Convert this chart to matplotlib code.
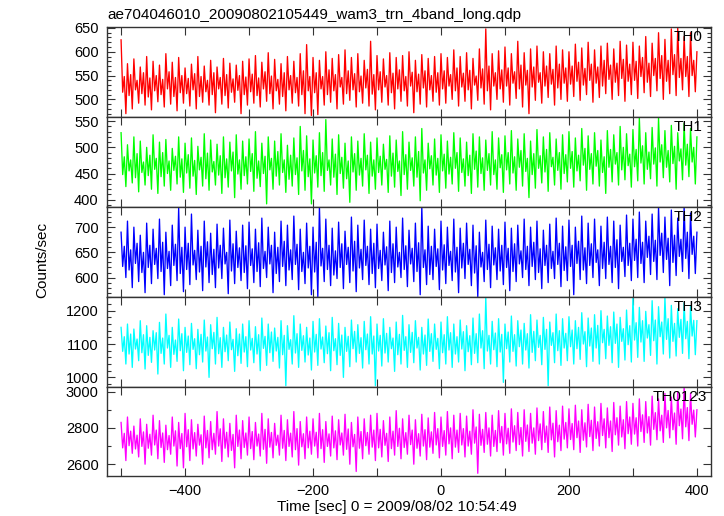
import numpy as np
import matplotlib
matplotlib.use("Agg")
from matplotlib import pyplot as plt
from matplotlib.ticker import MultipleLocator

plt.rcParams['font.family'] = ['Liberation Sans', 'DejaVu Sans']

# light curve time grid (sec); per 10 s bin: peak, core-low, core-high, dip
t = np.arange(-500, 401, 2.5)

th0_hi = [625, 575, 585, 568, 590, 580, 572, 596, 578, 588,
          566, 574, 590, 570, 582, 568, 586, 576, 572, 580,
          585, 592, 578, 598, 584, 575, 590, 580, 596, 615,
          588, 582, 600, 586, 594, 604, 588, 596, 582, 622,
          592, 585, 598, 588, 592, 600, 582, 594, 586, 590,
          596, 588, 604, 590, 598, 586, 606, 648, 596, 602,
          610, 596, 622, 598, 606, 612, 600, 596, 612, 604,
          600, 616, 608, 620, 604, 612, 618, 606, 622, 614,
          620, 612, 632, 618, 640, 626, 648, 650, 632, 640, 600]
th0_chi = [548, 552, 540, 556, 545, 550, 542, 558, 546, 550,
           544, 554, 548, 540, 556, 546, 552, 543, 550, 547,
           553, 545, 558, 549, 542, 556, 550, 546, 560, 548,
           556, 548, 562, 552, 546, 560, 554, 549, 563, 552,
           558, 550, 555, 562, 548, 557, 553, 560, 550, 556,
           560, 552, 566, 555, 561, 549, 564, 570, 556, 562,
           566, 558, 572, 561, 568, 556, 570, 563, 574, 566,
           570, 578, 565, 574, 568, 582, 572, 576, 584, 574,
           580, 588, 576, 586, 592, 582, 594, 586, 590, 582]
th0_clo = [515, 508, 520, 512, 505, 518, 510, 522, 506, 514,
           512, 520, 506, 516, 510, 522, 508, 515, 519, 510,
           516, 508, 522, 512, 518, 506, 520, 514, 510, 518,
           514, 522, 510, 518, 526, 512, 520, 516, 524, 511,
           520, 526, 514, 522, 518, 528, 516, 524, 520, 515,
           522, 528, 518, 526, 520, 530, 524, 518, 528, 522,
           528, 534, 522, 530, 526, 536, 528, 532, 524, 534,
           532, 538, 530, 540, 534, 528, 542, 536, 544, 538,
           540, 548, 536, 550, 544, 538, 552, 546, 548, 550]
th0_lo = [470, 480, 492, 488, 478, 495, 484, 490, 476, 492,
          486, 480, 494, 488, 472, 490, 482, 494, 470, 488,
          492, 484, 496, 480, 490, 476, 492, 486, 470, 466,
          468, 488, 494, 480, 490, 498, 484, 492, 486, 478,
          494, 488, 480, 496, 486, 472, 490, 484, 496, 488,
          492, 500, 486, 496, 480, 498, 490, 478, 500, 494,
          488, 502, 484, 470, 498, 492, 504, 488, 500, 496,
          506, 498, 510, 494, 504, 512, 500, 508, 496, 510,
          502, 514, 506, 518, 500, 512, 508, 520, 506, 516]

th1_hi = [528, 505, 520, 512, 500, 524, 510, 515, 498, 520,
          508, 518, 502, 526, 514, 506, 520, 510, 524, 512,
          516, 530, 508, 520, 512, 526, 504, 518, 540, 522,
          514, 528, 553, 516, 524, 508, 520, 512, 526, 510,
          518, 506, 522, 514, 530, 510, 520, 536, 508, 516,
          524, 512, 528, 518, 510, 526, 520, 514, 530, 518,
          522, 532, 516, 526, 512, 534, 520, 528, 516, 524,
          530, 518, 536, 522, 528, 514, 532, 524, 540, 526,
          534, 556, 528, 538, 556, 532, 542, 528, 546, 536, 520]
th1_chi = [482, 476, 488, 472, 485, 479, 490, 474, 483, 478,
           486, 475, 481, 489, 473, 484, 478, 491, 476, 482,
           488, 474, 483, 479, 492, 476, 485, 480, 494, 478,
           484, 490, 476, 487, 481, 474, 488, 479, 485, 476,
           483, 477, 489, 474, 486, 480, 492, 476, 484, 479,
           487, 481, 490, 478, 485, 493, 480, 488, 476, 486,
           490, 482, 494, 479, 488, 484, 496, 481, 490, 486,
           492, 485, 498, 488, 494, 482, 496, 490, 500, 487,
           496, 503, 491, 499, 505, 494, 502, 497, 506, 500]
th1_clo = [448, 455, 442, 452, 446, 458, 444, 450, 456, 443,
           451, 445, 457, 440, 453, 447, 442, 455, 449, 446,
           454, 441, 450, 457, 445, 452, 439, 448, 455, 444,
           451, 446, 456, 443, 450, 440, 453, 447, 457, 445,
           452, 458, 445, 454, 448, 456, 443, 451, 459, 447,
           455, 449, 460, 452, 446, 458, 450, 456, 448, 461,
           457, 451, 462, 454, 448, 460, 453, 463, 456, 450,
           460, 455, 466, 458, 464, 452, 462, 468, 457, 465,
           463, 470, 458, 468, 472, 462, 469, 474, 466, 472]
th1_lo = [425, 432, 415, 428, 420, 412, 426, 418, 430, 414,
          422, 410, 426, 418, 428, 412, 424, 404, 420, 430,
          416, 425, 392, 420, 428, 414, 426, 410, 418, 392,
          424, 416, 428, 410, 422, 395, 418, 426, 412, 420,
          428, 414, 424, 408, 420, 426, 398, 418, 428, 414,
          422, 430, 416, 426, 412, 424, 418, 428, 420, 414,
          430, 418, 426, 404, 422, 432, 416, 428, 420, 434,
          424, 436, 418, 430, 426, 412, 434, 428, 438, 424,
          436, 430, 440, 426, 442, 434, 420, 438, 444, 430]

th2_hi = [690, 712, 700, 684, 708, 696, 716, 690, 704, 738,
          700, 726, 694, 712, 688, 706, 698, 714, 692, 704,
          710, 696, 718, 700, 690, 712, 704, 722, 696, 708,
          700, 741, 716, 698, 710, 692, 720, 704, 714, 696,
          706, 690, 712, 700, 718, 694, 708, 741, 702, 696,
          712, 700, 716, 698, 708, 704, 690, 714, 702, 696,
          710, 698, 704, 716, 700, 712, 694, 706, 718, 702,
          714, 700, 722, 708, 716, 702, 720, 712, 704, 724,
          716, 730, 712, 726, 740, 720, 734, 718, 741, 728, 690]
th2_chi = [662, 655, 668, 650, 664, 658, 670, 652, 666, 660,
           668, 654, 662, 671, 656, 664, 650, 667, 659, 663,
           657, 669, 652, 664, 660, 672, 655, 666, 650, 662,
           670, 658, 664, 653, 667, 660, 672, 656, 662, 668,
           654, 661, 667, 650, 663, 658, 669, 655, 662, 657,
           665, 652, 660, 668, 656, 663, 650, 666, 659, 664,
           658, 667, 653, 662, 670, 657, 664, 652, 668, 661,
           664, 672, 659, 667, 655, 670, 662, 675, 660, 668,
           676, 670, 682, 674, 688, 678, 684, 676, 690, 682]
th2_clo = [622, 615, 628, 610, 620, 626, 612, 618, 624, 608,
           616, 625, 611, 621, 606, 619, 627, 613, 620, 610,
           624, 612, 618, 627, 608, 622, 615, 626, 612, 619,
           611, 623, 616, 605, 620, 626, 613, 619, 624, 608,
           618, 625, 610, 621, 616, 627, 612, 620, 606, 622,
           615, 624, 611, 619, 626, 609, 621, 616, 625, 613,
           620, 612, 627, 616, 622, 610, 624, 618, 626, 614,
           622, 628, 615, 624, 630, 618, 626, 620, 632, 624,
           634, 628, 640, 632, 644, 636, 630, 642, 638, 646]
th2_lo = [600, 580, 592, 570, 588, 598, 566, 584, 594, 572,
          586, 596, 574, 590, 580, 598, 568, 588, 594, 578,
          590, 582, 600, 570, 592, 584, 596, 576, 588, 566,
          562, 592, 584, 598, 578, 590, 572, 596, 586, 580,
          594, 574, 590, 600, 582, 592, 566, 586, 596, 576,
          588, 594, 570, 598, 584, 562, 592, 580, 596, 586,
          574, 592, 600, 584, 596, 578, 590, 598, 582, 594,
          566, 596, 588, 600, 584, 598, 590, 578, 602, 594,
          600, 590, 606, 596, 610, 584, 604, 612, 598, 608]

th3_hi = [1150, 1160, 1145, 1170, 1155, 1140, 1165, 1190, 1150, 1175,
          1150, 1162, 1144, 1172, 1158, 1180, 1150, 1166, 1146, 1160,
          1170, 1152, 1178, 1160, 1148, 1170, 1155, 1185, 1160, 1150,
          1168, 1176, 1154, 1180, 1162, 1150, 1172, 1158, 1168, 1182,
          1160, 1176, 1150, 1166, 1186, 1158, 1170, 1150, 1175, 1160,
          1166, 1182, 1160, 1172, 1155, 1178, 1190, 1240, 1168, 1176,
          1160, 1184, 1170, 1162, 1188, 1172, 1180, 1166, 1190, 1176,
          1182, 1170, 1194, 1178, 1188, 1200, 1184, 1196, 1180, 1202,
          1240, 1210, 1198, 1230, 1212, 1240, 1216, 1206, 1224, 1214, 1170]
th3_chi = [1122, 1130, 1115, 1128, 1120, 1134, 1118, 1126, 1112, 1131,
           1124, 1116, 1129, 1121, 1135, 1119, 1127, 1114, 1130, 1122,
           1117, 1128, 1123, 1136, 1120, 1126, 1113, 1131, 1125, 1118,
           1129, 1121, 1134, 1116, 1127, 1123, 1138, 1119, 1130, 1124,
           1126, 1132, 1118, 1129, 1122, 1135, 1120, 1127, 1131, 1117,
           1128, 1134, 1122, 1137, 1125, 1131, 1140, 1126, 1133, 1129,
           1136, 1128, 1142, 1131, 1138, 1126, 1144, 1134, 1140, 1132,
           1142, 1150, 1137, 1148, 1156, 1144, 1152, 1160, 1146, 1155,
           1164, 1170, 1158, 1172, 1166, 1176, 1162, 1174, 1168, 1171]
th3_clo = [1078, 1070, 1085, 1074, 1066, 1082, 1072, 1088, 1069, 1080,
           1075, 1084, 1068, 1079, 1086, 1071, 1077, 1083, 1065, 1076,
           1082, 1070, 1087, 1074, 1079, 1068, 1084, 1073, 1081, 1067,
           1076, 1085, 1071, 1080, 1066, 1078, 1086, 1072, 1083, 1070,
           1079, 1073, 1086, 1068, 1081, 1075, 1088, 1070, 1078, 1084,
           1074, 1082, 1070, 1085, 1077, 1072, 1088, 1079, 1083, 1076,
           1086, 1078, 1092, 1082, 1075, 1090, 1084, 1096, 1080, 1088,
           1092, 1086, 1100, 1094, 1088, 1104, 1096, 1102, 1108, 1098,
           1112, 1106, 1118, 1110, 1122, 1114, 1108, 1120, 1116, 1124]
th3_lo = [1040, 1030, 1050, 1025, 1045, 1010, 1040, 1030, 1048, 1020,
          1038, 1026, 1046, 1000, 1040, 1030, 1050, 1018, 1042, 1032,
          1044, 1020, 1036, 1048, 1028, 975, 1040, 1030, 1046, 1022,
          1036, 1044, 1020, 1038, 1000, 1032, 1046, 1028, 1040, 975,
          1034, 1046, 1018, 1040, 1030, 1044, 1022, 1036, 1048, 1026,
          1040, 1030, 1046, 1020, 1038, 1044, 1026, 1040, 1032, 985,
          1046, 1034, 1040, 1028, 1050, 1038, 975, 1044, 1036, 1050,
          1040, 1054, 1032, 1048, 1040, 1056, 1044, 1030, 1052, 1046,
          1060, 1048, 1066, 1040, 1070, 1058, 1064, 1072, 1056, 1068]

th0123_hi = [2830, 2860, 2810, 2850, 2820, 2870, 2840, 2815, 2860, 2830,
             2880, 2845, 2820, 2865, 2835, 2890, 2850, 2825, 2870, 2840,
             2860, 2830, 2880, 2850, 2825, 2870, 2845, 2890, 2835, 2860,
             2850, 2880, 2835, 2865, 2845, 2875, 2830, 2860, 2850, 2870,
             2880, 2840, 2860, 2895, 2850, 2870, 2845, 2875, 2855, 2885,
             2860, 2890, 2870, 2880, 2865, 2900, 2875, 2885, 2870, 2895,
             2880, 2905, 2885, 2900, 2880, 2910, 2890, 2915, 2895, 2920,
             2905, 2925, 2900, 2930, 2915, 2935, 2910, 2940, 2920, 2945,
             2935, 2960, 2945, 2975, 2960, 2990, 2970, 3000, 3027, 2990, 2900]
th0123_chi = [2770, 2782, 2760, 2778, 2765, 2788, 2772, 2758, 2784, 2769,
              2790, 2774, 2762, 2786, 2770, 2795, 2776, 2764, 2788, 2772,
              2780, 2766, 2792, 2775, 2760, 2786, 2771, 2796, 2768, 2782,
              2776, 2790, 2767, 2784, 2772, 2794, 2764, 2780, 2775, 2788,
              2792, 2770, 2782, 2798, 2774, 2788, 2768, 2790, 2778, 2796,
              2785, 2800, 2788, 2796, 2782, 2805, 2792, 2800, 2786, 2808,
              2798, 2812, 2802, 2816, 2800, 2822, 2810, 2826, 2815, 2830,
              2824, 2838, 2828, 2842, 2834, 2850, 2838, 2856, 2845, 2860,
              2856, 2872, 2862, 2884, 2870, 2896, 2882, 2904, 2912, 2898]
th0123_clo = [2690, 2702, 2684, 2698, 2688, 2706, 2692, 2680, 2700, 2686,
              2696, 2684, 2705, 2690, 2680, 2700, 2688, 2676, 2698, 2692,
              2686, 2700, 2682, 2694, 2704, 2688, 2698, 2680, 2696, 2690,
              2700, 2686, 2698, 2690, 2706, 2682, 2696, 2688, 2702, 2694,
              2690, 2704, 2686, 2698, 2692, 2708, 2688, 2700, 2694, 2706,
              2698, 2712, 2694, 2706, 2700, 2716, 2704, 2710, 2698, 2718,
              2712, 2722, 2708, 2726, 2716, 2730, 2720, 2734, 2724, 2738,
              2736, 2746, 2732, 2752, 2742, 2758, 2746, 2762, 2750, 2768,
              2766, 2780, 2772, 2792, 2784, 2800, 2790, 2812, 2806, 2820]
th0123_lo = [2620, 2660, 2640, 2600, 2650, 2630, 2610, 2655, 2590, 2580,
             2620, 2645, 2600, 2635, 2655, 2615, 2640, 2580, 2630, 2650,
             2625, 2645, 2605, 2635, 2650, 2620, 2640, 2595, 2630, 2655,
             2635, 2610, 2645, 2625, 2650, 2600, 2560, 2630, 2655, 2620,
             2640, 2615, 2650, 2630, 2655, 2600, 2645, 2625, 2660, 2635,
             2650, 2630, 2665, 2640, 2655, 2550, 2665, 2645, 2670, 2650,
             2660, 2675, 2645, 2670, 2655, 2680, 2665, 2640, 2675, 2690,
             2680, 2665, 2695, 2675, 2700, 2690, 2670, 2705, 2685, 2710,
             2700, 2720, 2705, 2735, 2720, 2745, 2710, 2740, 2730, 2750]

bands = ['TH0', 'TH1', 'TH2', 'TH3', 'TH0123']
series = [(th0_hi, th0_clo, th0_chi, th0_lo),
          (th1_hi, th1_clo, th1_chi, th1_lo),
          (th2_hi, th2_clo, th2_chi, th2_lo),
          (th3_hi, th3_clo, th3_chi, th3_lo),
          (th0123_hi, th0123_clo, th0123_chi, th0123_lo)]
colors = ['#ff0000', '#00ff00', '#0000ff', '#00ffff', '#ff00ff']
ylims = [(463, 652), (387, 558), (562, 741), (972, 1242), (2535, 3027)]
ymajor = [50, 50, 50, 100, 200]
yminor = [10, 10, 10, 20, 100]
label_right = [702.7, 702.7, 702.7, 702.7, 707]

W, H = 724, 516
fig = plt.figure(figsize=(W / 100, H / 100), dpi=100)
edges = [27, 117, 206.5, 296.7, 386.7, 476]
left, right = 107, 711

for i in range(5):
    top, bot = edges[i], edges[i + 1]
    ax = fig.add_axes([left / W, 1 - bot / H, (right - left) / W, (bot - top) / H])
    hi, clo, chi, lo = series[i]
    y = np.empty(len(t))
    y[0::4] = hi
    y[1::4] = clo
    y[2::4] = chi
    y[3::4] = lo
    ax.plot(t, y, color=colors[i], lw=0.95)
    ax.set_xlim(-522, 422)
    ax.set_ylim(*ylims[i])
    ax.xaxis.set_major_locator(MultipleLocator(200))
    ax.xaxis.set_minor_locator(MultipleLocator(100))
    ax.yaxis.set_major_locator(MultipleLocator(ymajor[i]))
    ax.yaxis.set_minor_locator(MultipleLocator(yminor[i]))
    ax.tick_params(which='both', direction='in', top=True, right=True,
                   width=0.8, color='#333333')
    ax.tick_params(which='major', length=6, labelsize=10.5, pad=6)
    ax.tick_params(which='minor', length=3)
    ax.tick_params(axis='x', which='minor', length=6)
    for s in ax.spines.values():
        s.set_linewidth(1.0)
        s.set_color('#333333')
    if i < 4:
        ax.tick_params(labelbottom=False)
    ax.text((label_right[i] - left) / (right - left), 0.965, bands[i],
            transform=ax.transAxes, ha='right', va='top', fontsize=11)

fig.text(left / W, 1 - 15 / H, 'ae704046010_20090802105449_wam3_trn_4band_long.qdp',
         ha='left', va='center', fontsize=11)
fig.text(42 / W, 1 - 260 / H, 'Counts/sec', rotation=90, ha='center',
         va='center', fontsize=11)
fig.text(397 / W, 1 - 507 / H, 'Time [sec] 0 = 2009/08/02 10:54:49',
         ha='center', va='center', fontsize=11)

fig.savefig('out.png', dpi=100)
